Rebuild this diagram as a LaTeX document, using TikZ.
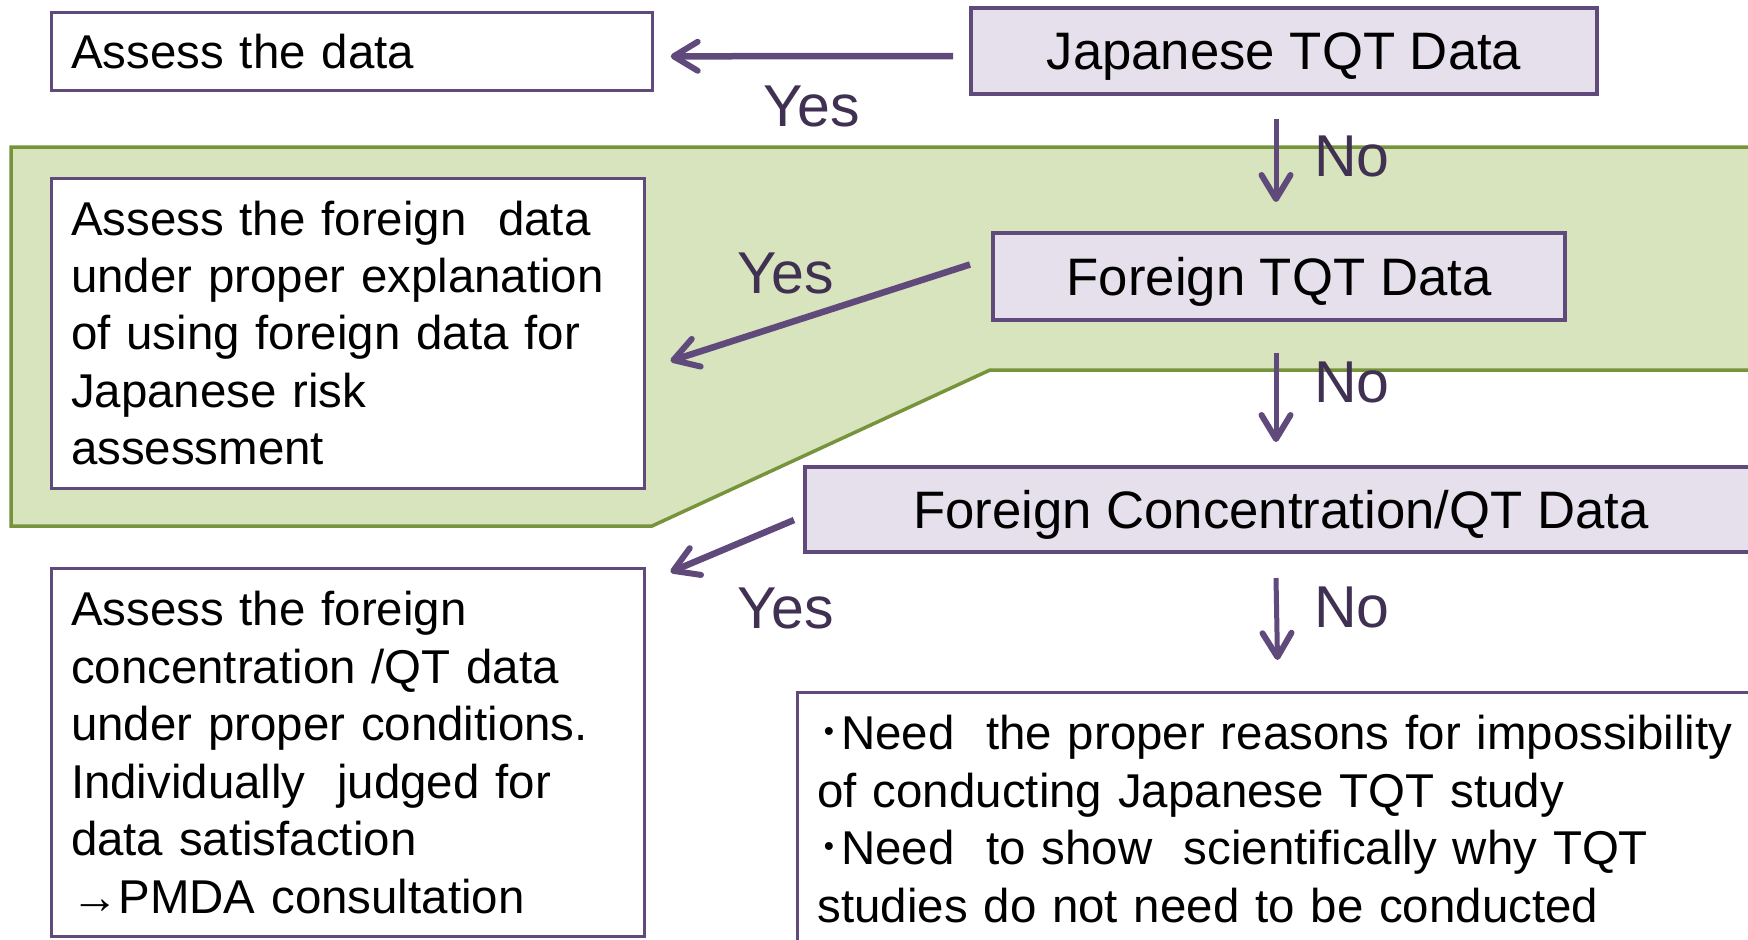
\documentclass[tikz,border=0pt]{standalone}
\usepackage{fontspec}
\setmainfont{Liberation Sans}
\newfontfamily\cjk{Noto Sans CJK JP}
\usepackage{tikz}
\usetikzlibrary{arrows.meta}
\definecolor{qline}{HTML}{604A7B}
\definecolor{qfill}{HTML}{E5E0EC}
\definecolor{bandfill}{HTML}{D7E4BD}
\definecolor{bandline}{HTML}{77933C}
\definecolor{ans}{HTML}{403152}
\tikzset{
	query/.style={draw=qline,fill=qfill,line width=0.4mm,inner sep=0pt,text depth=0pt,
		font=\fontsize{15}{18}\selectfont},
	verdict/.style={draw=qline,fill=white,line width=0.3mm,inner xsep=2mm,inner ysep=0pt,
		align=left,font=\fontsize{13.5}{16.35}\selectfont},
	ans/.style={text=ans,inner sep=0pt,font=\fontsize{16.8}{20}\selectfont},
	ar/.style={draw=qline,line width=0.65mm,
		-{Straight Barb[length=2.4mm,width=2.9mm,line width=0.6mm,round]}},
	arv/.style={ar,line width=0.5mm}
}
\begin{document}
\begin{tikzpicture}[x=0.1mm,y=-0.1mm]
	\useasboundingbox (0,0) rectangle (1748,939);
	\clip (0,0) rectangle (1748,939);
	% band round the foreign TQT step
	\filldraw[fill=bandfill,draw=bandline,line width=0.35mm]
		(11,147) -- (1790,147) -- (1790,370) -- (990,370) -- (652,526) -- (11,526) -- cycle;
	\node[query,minimum width=62.6mm,minimum height=8.6mm] (jtqt) at (1284,51) {Japanese TQT Data};
	\node[query,minimum width=57.2mm,minimum height=8.7mm] (ftqt) at (1279,276.5) {Foreign TQT Data};
	\node[query,minimum width=95.2mm,minimum height=8.5mm] (fcqt) at (1281,509.5) {Foreign Concentration/QT Data};
	\node[verdict,text width=56.1mm,minimum height=7.8mm] (ad) at (351.7,51.3) {Assess the data};
	\node[verdict,text width=55.3mm,minimum height=31mm] (afd) at (347.5,333)
		{Assess the foreign~ data\\under proper explanation\\of using foreign data for\\Japanese risk\\assessment};
	\node[verdict,text width=55.3mm,minimum height=36.8mm] (afc) at (347.5,752.5)
		{Assess the foreign\\concentration /QT data\\under proper conditions.\\Individually~ judged for\\data satisfaction\\→PMDA consultation};
	\node[verdict,text width=96.4mm,inner ysep=2.3mm,anchor=north west] (need) at (796,691)
		{{\cjk ･}Need~ the proper reasons for impossibility\\of conducting Japanese TQT study\\{\cjk ･}Need~ to show~ scientifically why TQT\\studies do not need to be conducted};
	\node[ans] (yes1) at (812,106) {Yes};
	\node[ans] (no1) at (1352,156) {No};
	\node[ans] (yes2) at (786,273) {Yes};
	\node[ans] (no2) at (1352,382) {No};
	\node[ans] (yes3) at (786,608) {Yes};
	\node[ans] (no3) at (1352,607.5) {No};
	\draw[ar] ([shift={(-16,5)}]jtqt.west) -- ([shift={(17,5)}]ad.east);
	\draw[ar] ([shift={(-21,-12)}]ftqt.west) -- ([shift={(25,28)}]afd.east);
	\draw[ar] ([shift={(-9,10.5)}]fcqt.west) -- ([shift={(25,5)}]afc.north east);
	\draw[arv] ([shift={(-8,23)}]jtqt.south) -- ([shift={(-3,-29)}]ftqt.north);
	\draw[arv] ([shift={(-3,31)}]ftqt.south) -- ([shift={(-5,-23)}]fcqt.north);
	\draw[arv] ([shift={(-5,24)}]fcqt.south) -- ([shift={(-22,-31)}]need.north);
\end{tikzpicture}
\end{document}
